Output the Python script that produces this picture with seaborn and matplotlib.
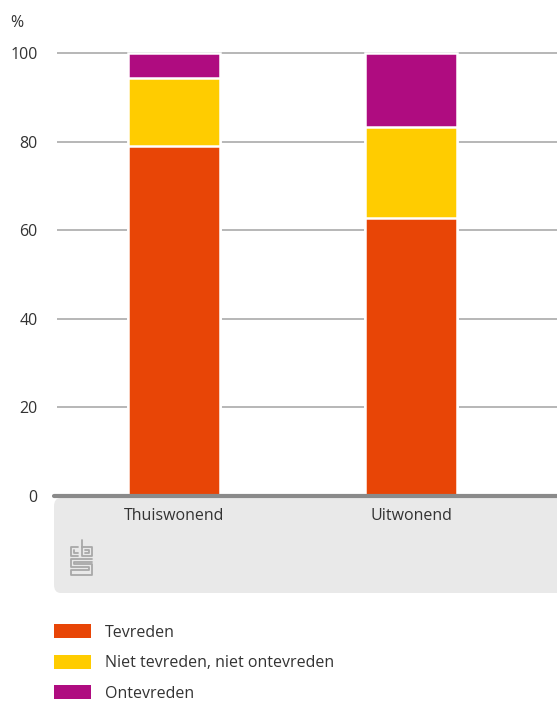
import numpy as np
import pandas as pd
import seaborn as sns
from matplotlib import pyplot as plt
from matplotlib.patches import FancyBboxPatch, Patch
from matplotlib.lines import Line2D

categories = ['Thuiswonend', 'Uitwonend']
tevreden = [79.1, 62.7]
neutraal = [15.3, 20.7]
ontevreden = [5.6, 16.6]
series_names = ['Tevreden', 'Niet tevreden, niet ontevreden', 'Ontevreden']
colors = ['#e84506', '#ffcc00', '#af0c80']
yticks = [0, 20, 40, 60, 80, 100]

W, H = 557, 702


def fx(x):
    return x / W


def fy(y):
    return 1 - y / H


sns.set_style('white')
plt.rcParams['font.family'] = ['Open Sans', 'DejaVu Sans']
plt.rcParams['text.color'] = '#333333'

fig = plt.figure(figsize=(W / 100, H / 100), dpi=100)
ax = fig.add_axes([fx(57), fy(496), fx(557) - fx(57), fy(44.4) - fy(496)])

df = pd.DataFrame({'cat': categories, 't': tevreden, 'n': neutraal, 'o': ontevreden})
df['tn'] = df['t'] + df['n']
df['tno'] = df['tn'] + df['o']

# stacked bars by drawing cumulative totals back to front
for col, c, name in [('tno', colors[2], series_names[2]),
                     ('tn', colors[1], series_names[1]),
                     ('t', colors[0], series_names[0])]:
    sns.barplot(data=df, x='cat', y=col, color=c, width=0.385, ax=ax,
                edgecolor='white', linewidth=1.8, saturation=1, label=name, zorder=3)

ax.set_ylim(0, 102)
ax.set_xlim(-0.494, 1.616)
ax.set_yticks(yticks)
ax.set_yticklabels([str(v) for v in yticks])
ax.set_xlabel('')
ax.set_ylabel('')
sns.despine(ax=ax, left=True, bottom=True)
ax.yaxis.grid(True, color='#a3a3a3', lw=1.1, zorder=1)
ax.xaxis.grid(False)
ax.tick_params(axis='y', length=0, pad=14, labelsize=11.5, labelcolor='#333333')
ax.tick_params(axis='x', length=0, pad=9, labelsize=11.5, labelcolor='#333333')
ax.axhline(0, xmin=-0.006, xmax=1, color='#8a8a8a', lw=3, clip_on=False, zorder=5)
if ax.get_legend() is not None:
    ax.get_legend().remove()

# grey panel under the axis
panel = FancyBboxPatch((fx(54), fy(593)), fx(600) - fx(54), fy(498) - fy(593),
                       boxstyle='round,pad=0,rounding_size=0.012',
                       transform=fig.transFigure, facecolor='#e9e9e9',
                       edgecolor='none', zorder=0)
fig.add_artist(panel)

# small cbs logo
logo = '#a8a8a8'
segs = [
    [(78, 547), (71, 547), (71, 556), (78, 556)],
    [(74, 550), (74, 553), (78, 553)],
    [(82, 540), (82, 556), (92, 556), (92, 547), (82, 547)],
    [(85, 550), (89, 550), (89, 553), (85, 553)],
    [(92, 559), (71, 559), (71, 567), (89, 567), (89, 570), (71, 570), (71, 575), (92, 575), (92, 564), (74, 564), (74, 562), (92, 562)],
]
for s in segs:
    xs = [fx(p[0]) for p in s]
    ys = [fy(p[1]) for p in s]
    fig.add_artist(Line2D(xs, ys, color=logo, lw=1.3, transform=fig.transFigure))

fig.text(fx(10), fy(23), '%', fontsize=11.5, va='center', ha='left')

handles = [Patch(facecolor=c, edgecolor='none') for c in colors]
fig.legend(handles, series_names, loc='upper left', bbox_to_anchor=(fx(54), fy(624)),
           frameon=False, fontsize=11.5, handlelength=2.3, handleheight=1.0,
           labelspacing=0.87, handletextpad=0.9, borderpad=0, borderaxespad=0)

fig.savefig('out.png', dpi=100)
